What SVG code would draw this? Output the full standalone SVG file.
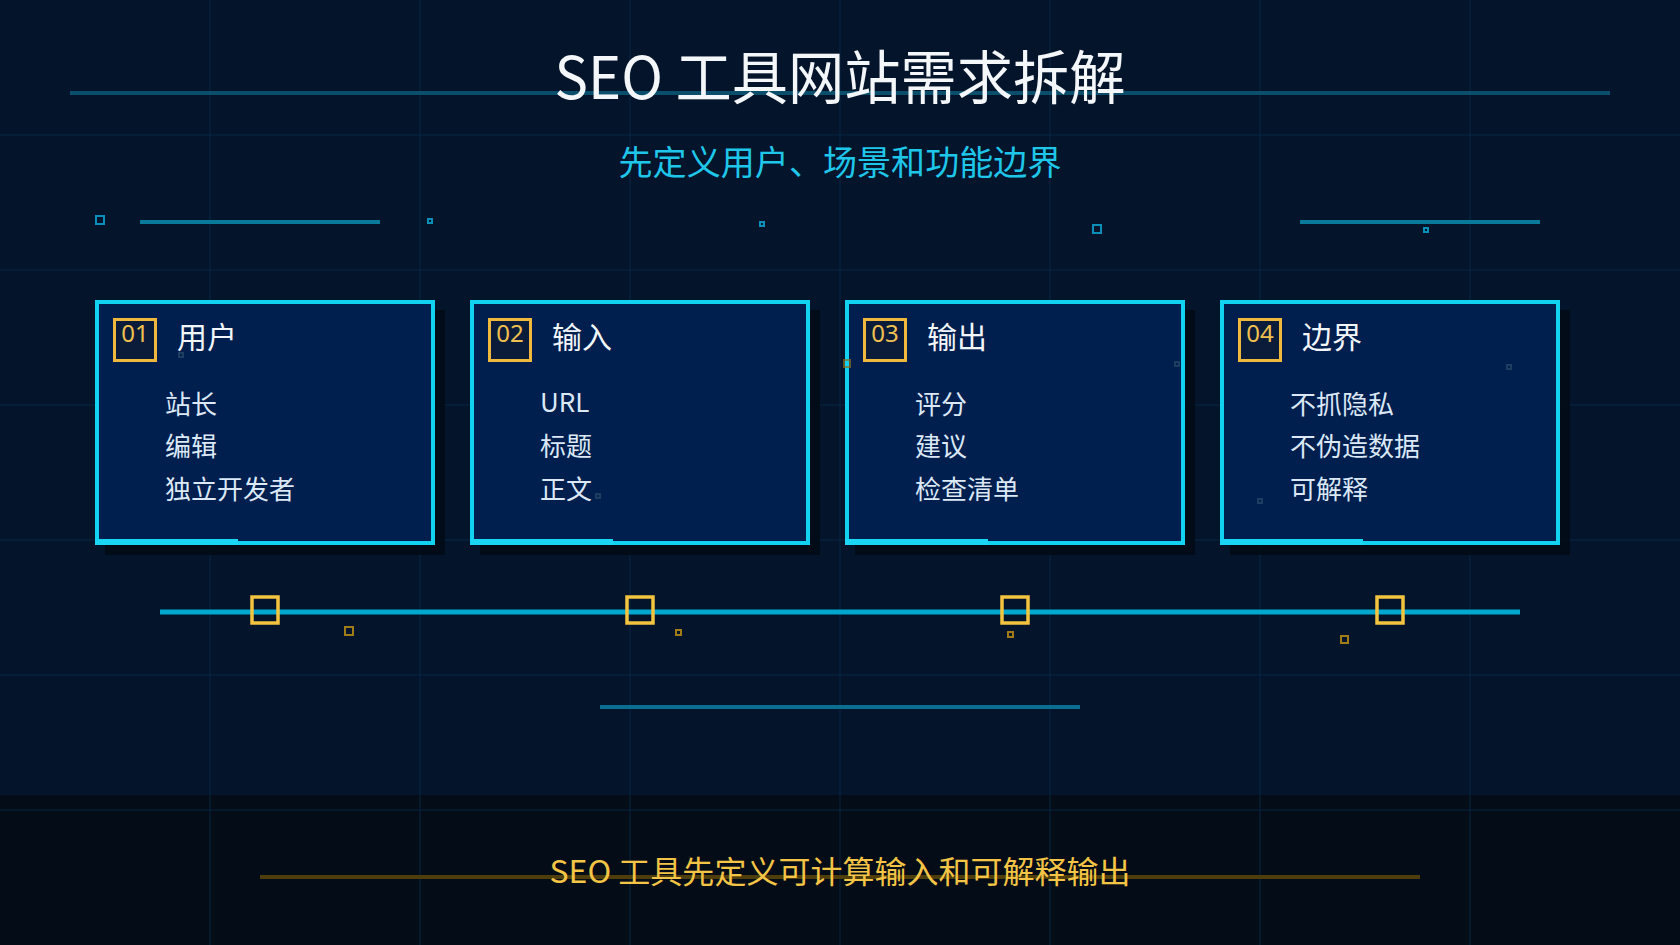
<svg xmlns="http://www.w3.org/2000/svg" width="1680" height="945" viewBox="0 0 1680 945">
<defs>
<style>
.grid{stroke:#0b2c4a;stroke-width:1;opacity:0.8}
.deco{stroke:#0a7a9a;stroke-width:4}
.sq{fill:none;stroke:#0a90b8;stroke-width:2}
.card{fill:#001e4e;stroke:#12d2f2;stroke-width:4}
.shadow{fill:#020a16;opacity:0.85}
.badge{fill:#0b1c3a;stroke:#f0b83c;stroke-width:3}
.num{font-family:"Noto Sans","Noto Sans CJK SC",sans-serif;font-size:24px;fill:#f0c050;text-anchor:middle}
.ttl{font-family:"Noto Sans CJK SC","Noto Sans",sans-serif;font-size:30px;fill:#f2f6fa}
.item{font-family:"Noto Sans CJK SC","Noto Sans",sans-serif;font-size:26px;fill:#dbe8f6}
.mark{fill:none;stroke:#f2c440;stroke-width:3.5}
.ymini{fill:none;stroke:#a07c18;stroke-width:2}
.faint{fill:none;stroke:#2a4a6a;stroke-width:2;opacity:0.7}
</style>
</defs>
<rect x="0" y="0" width="1680" height="945" fill="#04142b"/>
<rect x="0" y="795" width="1680" height="150" fill="#040d17"/>
<g id="grid">
<line class="grid" x1="210" y1="0" x2="210" y2="945"/>
<line class="grid" x1="420" y1="0" x2="420" y2="945"/>
<line class="grid" x1="630" y1="0" x2="630" y2="945"/>
<line class="grid" x1="840" y1="0" x2="840" y2="945"/>
<line class="grid" x1="1050" y1="0" x2="1050" y2="945"/>
<line class="grid" x1="1260" y1="0" x2="1260" y2="945"/>
<line class="grid" x1="1470" y1="0" x2="1470" y2="945"/>
<line class="grid" x1="0" y1="135" x2="1680" y2="135"/>
<line class="grid" x1="0" y1="270" x2="1680" y2="270"/>
<line class="grid" x1="0" y1="405" x2="1680" y2="405"/>
<line class="grid" x1="0" y1="540" x2="1680" y2="540"/>
<line class="grid" x1="0" y1="675" x2="1680" y2="675"/>
<line class="grid" x1="0" y1="810" x2="1680" y2="810"/>
</g>
<g id="header">
<line x1="70" y1="93" x2="1610" y2="93" stroke="#0a4e6c" stroke-width="4"/>
<text x="840" y="99" text-anchor="middle" font-family="'Noto Sans CJK SC','Noto Sans',sans-serif" font-size="58" fill="#f4f7fa" textLength="571" lengthAdjust="spacingAndGlyphs">SEO 工具网站需求拆解</text>
<text x="840" y="175" text-anchor="middle" font-family="'Noto Sans CJK SC','Noto Sans',sans-serif" font-size="34" fill="#1ec6ea" textLength="443" lengthAdjust="spacingAndGlyphs">先定义用户、场景和功能边界</text>
</g>
<g id="decorations">
<rect class="sq" x="96" y="216" width="8" height="8"/>
<line class="deco" x1="140" y1="222" x2="380" y2="222"/>
<rect class="sq" x="428" y="219" width="4" height="4"/>
<rect class="sq" x="760" y="222" width="4" height="4"/>
<rect class="sq" x="1093" y="225" width="8" height="8"/>
<line class="deco" x1="1300" y1="222" x2="1540" y2="222"/>
<rect class="sq" x="1424" y="228" width="4" height="4"/>
</g>
<g id="card1">
<rect class="shadow" x="105" y="310" width="340" height="245"/>
<rect class="card" x="97" y="302" width="336" height="241"/>
<rect x="95" y="539" width="143" height="6" fill="#1ad6f4"/>
<rect class="badge" x="114.5" y="319.5" width="41" height="41"/>
<text class="num" x="135" y="342">01</text>
<text class="ttl" x="177" y="348">用户</text>
<text class="item" x="165" y="414">站长</text>
<text class="item" x="165" y="456">编辑</text>
<text class="item" x="165" y="499">独立开发者</text>
<rect class="faint" x="179" y="353" width="4" height="4"/>
</g>
<g id="card2">
<rect class="shadow" x="480" y="310" width="340" height="245"/>
<rect class="card" x="472" y="302" width="336" height="241"/>
<rect x="470" y="539" width="143" height="6" fill="#1ad6f4"/>
<rect class="badge" x="489.5" y="319.5" width="41" height="41"/>
<text class="num" x="510" y="342">02</text>
<text class="ttl" x="552" y="348">输入</text>
<text class="item" x="540" y="412">URL</text>
<text class="item" x="540" y="456">标题</text>
<text class="item" x="540" y="499">正文</text>
<rect class="faint" x="596" y="494" width="4" height="4"/>
</g>
<g id="card3">
<rect class="shadow" x="855" y="310" width="340" height="245"/>
<rect class="card" x="847" y="302" width="336" height="241"/>
<rect x="845" y="539" width="143" height="6" fill="#1ad6f4"/>
<rect class="badge" x="864.5" y="319.5" width="41" height="41"/>
<text class="num" x="885" y="342">03</text>
<text class="ttl" x="927" y="348">输出</text>
<text class="item" x="915" y="414">评分</text>
<text class="item" x="915" y="456">建议</text>
<text class="item" x="915" y="499">检查清单</text>
<rect x="844" y="360" width="6" height="7" fill="none" stroke="#8a7020" stroke-width="2" opacity="0.7"/>
<rect class="faint" x="1175" y="362" width="4" height="4"/>
</g>
<g id="card4">
<rect class="shadow" x="1230" y="310" width="340" height="245"/>
<rect class="card" x="1222" y="302" width="336" height="241"/>
<rect x="1220" y="539" width="143" height="6" fill="#1ad6f4"/>
<rect class="badge" x="1239.5" y="319.5" width="41" height="41"/>
<text class="num" x="1260" y="342">04</text>
<text class="ttl" x="1302" y="348">边界</text>
<text class="item" x="1290" y="414">不抓隐私</text>
<text class="item" x="1290" y="456">不伪造数据</text>
<text class="item" x="1290" y="499">可解释</text>
<rect class="faint" x="1507" y="365" width="4" height="4"/>
<rect class="faint" x="1258" y="499" width="4" height="4"/>
</g>
<g id="connectors">
<line x1="160" y1="612" x2="1520" y2="612" stroke="#00a8d0" stroke-width="5"/>
<rect class="mark" x="252" y="597" width="26" height="26"/>
<rect class="mark" x="627" y="597" width="26" height="26"/>
<rect class="mark" x="1002" y="597" width="26" height="26"/>
<rect class="mark" x="1377" y="597" width="26" height="26"/>
<rect class="ymini" x="345" y="627" width="8" height="8"/>
<rect class="ymini" x="676" y="630" width="5" height="5"/>
<rect class="ymini" x="1008" y="632" width="5" height="5"/>
<rect class="ymini" x="1341" y="636" width="7" height="7"/>
<line x1="600" y1="707" x2="1080" y2="707" stroke="#0a6e90" stroke-width="4"/>
</g>
<g id="footer">
<line x1="260" y1="877" x2="1420" y2="877" stroke="#4e3e0c" stroke-width="4"/>
<text x="840" y="883" text-anchor="middle" font-family="'Noto Sans CJK SC','Noto Sans',sans-serif" font-size="31" fill="#f3c445" textLength="581" lengthAdjust="spacingAndGlyphs">SEO 工具先定义可计算输入和可解释输出</text>
</g>
</svg>
